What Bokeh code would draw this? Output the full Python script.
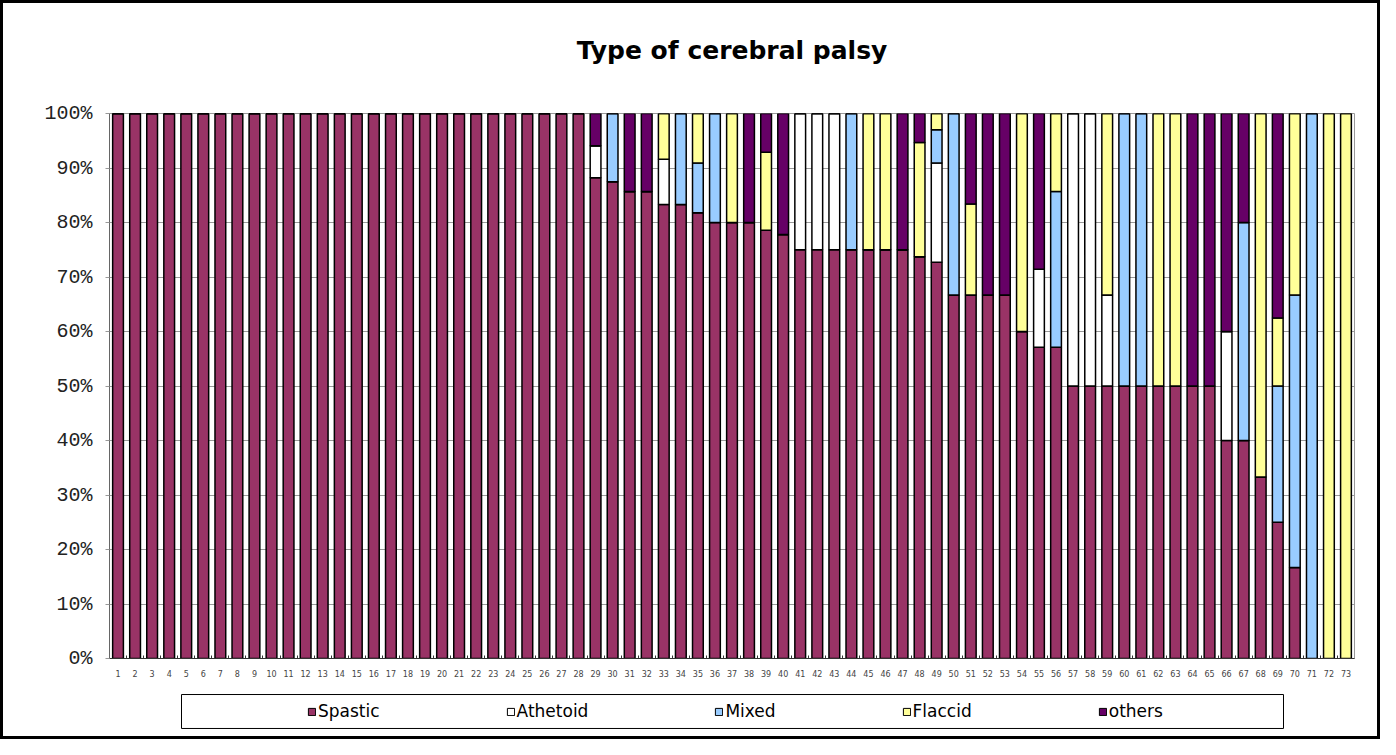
from bokeh.plotting import figure
from bokeh.models import (ColumnDataSource, FixedTicker, PrintfTickFormatter,
                          Legend, LegendItem, Range1d, Title)
from bokeh.layouts import column
from bokeh.embed import file_html
from bokeh.resources import INLINE

# ---------------- data (percent of cases per group) ----------------
groups = list(range(1, 74))
categories = ["Spastic", "Athetoid", "Mixed", "Flaccid", "others"]
colors = ["#993366", "#FFFFFF", "#99CCFF", "#FFFF99", "#660066"]

spastic = [100] * 28 + [88.2, 87.5, 85.7, 85.7, 83.3, 83.3, 81.8, 80, 80, 80,
                        78.6, 77.8, 75, 75, 75, 75, 75, 75, 75, 73.7,
                        72.7, 66.7, 66.7, 66.7, 66.7, 60, 57.1, 57.1, 50, 50,
                        50, 50, 50, 50, 50, 50, 50, 40, 40, 33.3,
                        25, 16.7, 0, 0, 0]
athetoid = [0] * 28 + [5.9, 0, 0, 0, 8.3, 0, 0, 0, 0, 0,
                       0, 0, 25, 25, 25, 0, 0, 0, 0, 0,
                       18.2, 0, 0, 0, 0, 0, 14.3, 0, 50, 50,
                       16.7, 0, 0, 0, 0, 0, 0, 20, 0, 0,
                       0, 0, 0, 0, 0]
mixed = [0] * 28 + [0, 12.5, 0, 0, 0, 16.7, 9.1, 20, 0, 0,
                    0, 0, 0, 0, 0, 25, 0, 0, 0, 0,
                    6.1, 33.3, 0, 0, 0, 0, 0, 28.6, 0, 0,
                    0, 50, 50, 0, 0, 0, 0, 0, 40, 0,
                    25, 50, 100, 0, 0]
flaccid = [0] * 28 + [0, 0, 0, 0, 8.4, 0, 9.1, 0, 20, 0,
                      14.3, 0, 0, 0, 0, 0, 25, 25, 0, 21.0,
                      3.0, 0, 16.7, 0, 0, 40, 0, 14.3, 0, 0,
                      33.3, 0, 0, 50, 50, 0, 0, 0, 0, 66.7,
                      12.5, 33.3, 0, 100, 100]
others = [0] * 28 + [5.9, 0, 14.3, 14.3, 0, 0, 0, 0, 0, 20,
                     7.1, 22.2, 0, 0, 0, 0, 0, 0, 25, 5.3,
                     0, 0, 16.6, 33.3, 33.3, 0, 28.6, 0, 0, 0,
                     0, 0, 0, 0, 0, 50, 50, 40, 20, 0,
                     37.5, 0, 0, 0, 0]
y_ticks = [0, 10, 20, 30, 40, 50, 60, 70, 80, 90, 100]

source = ColumnDataSource(dict(x=groups, Spastic=spastic, Athetoid=athetoid,
                               Mixed=mixed, Flaccid=flaccid, others=others))

BL, BR = 106, 23   # shared left / right borders (frames are aligned in a column)

# ---------------- main chart ----------------
p = figure(width=1374, height=676,
           x_range=Range1d(0.5, 73.5), y_range=Range1d(0, 100),
           output_backend="svg", toolbar_location=None,
           min_border_left=BL, min_border_right=BR,
           min_border_top=110, min_border_bottom=20,
           title="Type of cerebral palsy")
p.title.align = "center"
p.title.text_font = "DejaVu Sans"
p.title.text_font_size = "25px"
p.title.text_font_style = "bold"
p.title.text_color = "black"
p.title.standoff = 4
# blank spacer between the title and the plot area
p.add_layout(Title(text=" ", text_font_size="10px", standoff=34), "above")

p.vbar_stack(categories, x="x", width=0.63, color=colors,
             line_color="black", line_width=1.5, source=source)

p.xgrid.grid_line_color = None
p.ygrid.grid_line_color = "#999999"
p.ygrid.ticker = FixedTicker(ticks=y_ticks)
p.outline_line_color = "#999999"
p.background_fill_color = "white"
p.border_fill_color = "white"

p.yaxis.ticker = FixedTicker(ticks=y_ticks)
p.yaxis.formatter = PrintfTickFormatter(format="%d%%")
p.yaxis.major_label_text_font = "Liberation Mono"
p.yaxis.major_label_text_font_size = "20px"
p.yaxis.major_label_text_color = "#222222"
p.yaxis.axis_line_color = "#666666"
p.yaxis.major_tick_line_color = "#999999"
p.yaxis.major_tick_in = 0
p.yaxis.major_tick_out = 4
p.yaxis.minor_tick_line_color = None
p.yaxis.major_label_standoff = 13

p.xaxis.ticker = FixedTicker(ticks=groups,
                             minor_ticks=[g + 0.5 for g in groups[:-1]])
p.xaxis.major_label_text_font = "DejaVu Sans"
p.xaxis.major_label_text_font_size = "8px"
p.xaxis.major_label_text_color = "#444444"
p.xaxis.axis_line_color = "#333333"
p.xaxis.major_tick_line_color = None
p.xaxis.minor_tick_line_color = "#333333"
p.xaxis.minor_tick_in = 3
p.xaxis.minor_tick_out = 0
p.xaxis.major_label_standoff = 5

# ---------------- legend strip ----------------
# x range expressed in page pixels of the strip's frame
lg = figure(width=1374, height=57, x_range=Range1d(109, 1354),
            y_range=Range1d(-0.03, 1.03),
            output_backend="svg", toolbar_location=None,
            x_axis_location=None, y_axis_location=None,
            min_border_left=BL, min_border_right=BR,
            min_border_top=14, min_border_bottom=7)
lg.xgrid.grid_line_color = None
lg.ygrid.grid_line_color = None
lg.outline_line_color = None
lg.background_fill_color = "white"
lg.border_fill_color = "white"

# legend frame box
lg.quad(left=[181], right=[1283], bottom=[0], top=[1],
        fill_color=None, line_color="black", line_width=1)

nan = float("nan")
items = []
for name, c in zip(categories, colors):
    # swatch-only renderer: a single undefined bar, nothing is drawn on the strip
    r = lg.vbar(x=[nan], top=[nan], bottom=[nan], width=1,
                fill_color=c, line_color="black")
    items.append(LegendItem(label=name, renderers=[r]))

legend = Legend(items=items, orientation="horizontal", location=(198, 8),
                spacing=126, glyph_width=9, glyph_height=9, label_standoff=2,
                label_text_font="DejaVu Sans", label_text_font_size="17px",
                label_text_color="black",
                border_line_alpha=0, background_fill_alpha=0,
                padding=0, margin=0)
lg.add_layout(legend, "center")

layout = column(p, lg, spacing=0)
layout.styles = {"border": "3px solid black"}

open("out.html", "w").write(file_html(layout, INLINE))
